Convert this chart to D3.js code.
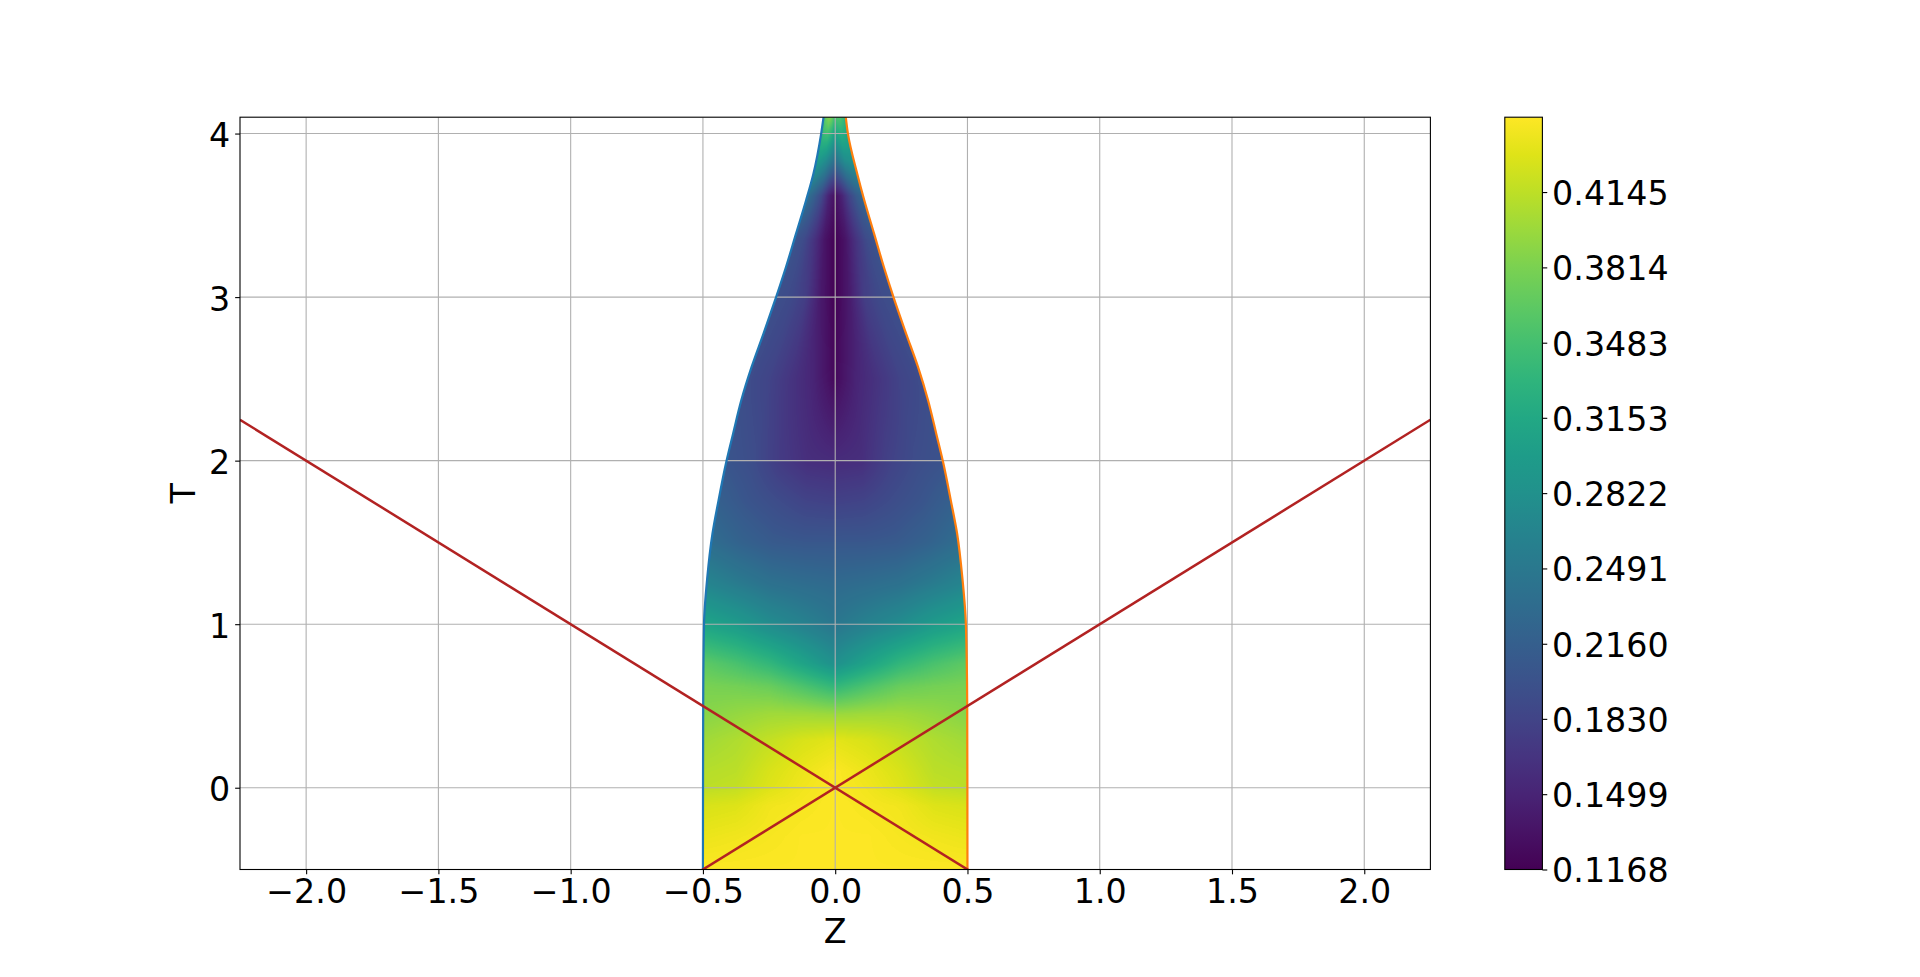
<!DOCTYPE html>
<html>
<head>
<meta charset="utf-8">
<script src="https://cdn.jsdelivr.net/npm/d3@7"></script>
<style>
  body { margin: 0; background: #fff; }
  svg { display: block; }
  text { font-family: "DejaVu Sans", sans-serif; }
</style>
</head>
<body>
<script>
// axis ticks
const zTicks = [-2.0, -1.5, -1.0, -0.5, 0.0, 0.5, 1.0, 1.5, 2.0];
const tTicks = [0, 1, 2, 3, 4];
const cbTicks = [0.1168, 0.1499, 0.1830, 0.2160, 0.2491, 0.2822, 0.3153, 0.3483, 0.3814, 0.4145];
const cbMin = 0.1168, cbMax = 0.4474;

// boundary of the domain (left = blue, right = orange)
const boundaryT = [-0.5, 0.5, 1.0, 1.278, 1.553, 1.757, 1.99, 2.165, 2.369, 2.573, 2.777, 2.997, 3.184, 3.388, 3.592, 3.75, 4.0, 4.1];
const leftZ  = [-0.5, -0.499, -0.496, -0.484, -0.464, -0.441, -0.412, -0.386, -0.355, -0.316, -0.271, -0.224, -0.186, -0.148, -0.110, -0.083, -0.053, -0.044];
const rightZ = [0.5, 0.499, 0.494, 0.481, 0.461, 0.437, 0.408, 0.382, 0.351, 0.313, 0.268, 0.221, 0.184, 0.147, 0.110, 0.084, 0.048, 0.040];

// field values, rows = T, columns = position across the domain (-1 left edge .. 1 right edge)
const uCols = [-1, -0.75, -0.5, -0.25, 0, 0.25, 0.5, 0.75, 1];
const tRows = [-0.5, -0.3, -0.11, 0, 0.1, 0.29, 0.45, 0.62, 0.76, 0.97, 1.25, 1.5, 1.75, 2.0, 2.5, 3.0, 3.35, 3.62, 3.83, 4.1];
const fieldValues = [
  [0.447, 0.447, 0.447, 0.447, 0.447, 0.447, 0.447, 0.447, 0.447],
  [0.438, 0.441, 0.444, 0.447, 0.447, 0.447, 0.444, 0.441, 0.438],
  [0.428, 0.431, 0.441, 0.444, 0.447, 0.444, 0.441, 0.431, 0.428],
  [0.414, 0.418, 0.431, 0.441, 0.447, 0.441, 0.431, 0.418, 0.414],
  [0.411, 0.414, 0.428, 0.438, 0.447, 0.438, 0.428, 0.414, 0.411],
  [0.401, 0.408, 0.418, 0.428, 0.434, 0.428, 0.418, 0.408, 0.401],
  [0.388, 0.395, 0.401, 0.401, 0.398, 0.401, 0.401, 0.395, 0.388],
  [0.381, 0.378, 0.372, 0.355, 0.335, 0.355, 0.372, 0.378, 0.381],
  [0.365, 0.352, 0.335, 0.309, 0.282, 0.309, 0.335, 0.352, 0.365],
  [0.315, 0.302, 0.282, 0.266, 0.249, 0.266, 0.282, 0.302, 0.315],
  [0.266, 0.252, 0.239, 0.233, 0.229, 0.233, 0.239, 0.252, 0.266],
  [0.233, 0.219, 0.209, 0.206, 0.206, 0.206, 0.209, 0.219, 0.233],
  [0.216, 0.203, 0.193, 0.183, 0.180, 0.183, 0.193, 0.203, 0.216],
  [0.203, 0.193, 0.173, 0.160, 0.157, 0.160, 0.180, 0.193, 0.200],
  [0.193, 0.183, 0.166, 0.150, 0.123, 0.150, 0.166, 0.183, 0.193],
  [0.196, 0.190, 0.176, 0.140, 0.117, 0.140, 0.176, 0.190, 0.196],
  [0.203, 0.190, 0.163, 0.133, 0.117, 0.133, 0.163, 0.190, 0.203],
  [0.239, 0.216, 0.190, 0.150, 0.127, 0.150, 0.183, 0.209, 0.226],
  [0.299, 0.289, 0.276, 0.256, 0.233, 0.256, 0.276, 0.282, 0.282],
  [0.348, 0.375, 0.388, 0.375, 0.348, 0.355, 0.355, 0.342, 0.322]
];

// the two red lines (endpoints)
const redLines = [
  {z: [-2.25, 2.25], t: [2.25, -2.25]},
  {z: [-2.25, 2.25], t: [-2.25, 2.25]}
];

const W = 1920, H = 977;
const fontSize = 33.3;
const tickLen = 4.86;

const x = d3.scaleLinear().domain([-2.25, 2.25]).range([240, 1430.4]);
const y = d3.scaleLinear().domain([-0.5, 4.1]).range([869.5, 117.2]);
const cbY = d3.scaleLinear().domain([cbMin, cbMax]).range([869.5, 117.2]);
const cbX0 = 1504.8, cbW = 37.6;

const svg = d3.select("body").append("svg")
  .attr("width", W).attr("height", H);

svg.append("rect").attr("width", W).attr("height", H).attr("fill", "#fff");

const defs = svg.append("defs");
defs.append("clipPath").attr("id", "plotClip")
  .append("rect")
  .attr("x", x.range()[0]).attr("y", y.range()[1])
  .attr("width", x.range()[1] - x.range()[0])
  .attr("height", y.range()[0] - y.range()[1]);

const bnd = boundaryT.map((t, i) => ({t: t, l: leftZ[i], r: rightZ[i]}));
const area = d3.area()
  .y(d => y(d.t)).x0(d => x(d.l)).x1(d => x(d.r))
  .curve(d3.curveMonotoneY);
defs.append("clipPath").attr("id", "fieldClip")
  .append("path").attr("d", area(bnd));

// ---- field image ----
const lut = d3.range(256).map(i => d3.rgb(d3.interpolateViridis(i / 255)));
const norm = d3.scaleLinear().domain([cbMin, cbMax]).range([0, 255]).clamp(true);
const rowIdx = d3.scaleLinear().domain(tRows).range(d3.range(tRows.length)).clamp(true);
const colIdx = d3.scaleLinear().domain(uCols).range(d3.range(uCols.length)).clamp(true);
const leftAt = d3.scaleLinear().domain(boundaryT).range(leftZ).clamp(true);
const rightAt = d3.scaleLinear().domain(boundaryT).range(rightZ).clamp(true);

function fieldAt(t, u) {
  const ri = rowIdx(t), ci = colIdx(u);
  const r0 = Math.floor(ri), r1 = Math.min(r0 + 1, tRows.length - 1), fr = ri - r0;
  const c0 = Math.floor(ci), c1 = Math.min(c0 + 1, uCols.length - 1), fc = ci - c0;
  const a = fieldValues[r0][c0] * (1 - fc) + fieldValues[r0][c1] * fc;
  const b = fieldValues[r1][c0] * (1 - fc) + fieldValues[r1][c1] * fc;
  return a * (1 - fr) + b * fr;
}

const px0 = Math.floor(x(-0.53)), px1 = Math.ceil(x(0.53));
const py0 = Math.floor(y(4.1)), py1 = Math.ceil(y(-0.5));
const cw = px1 - px0, ch = py1 - py0;
const canvas = document.createElement("canvas");
canvas.width = cw; canvas.height = ch;
const ctx = canvas.getContext("2d");
const img = ctx.createImageData(cw, ch);
for (let j = 0; j < ch; j++) {
  const t = y.invert(py0 + j + 0.5);
  const L = leftAt(t), R = rightAt(t);
  const mid = (L + R) / 2, half = (R - L) / 2;
  for (let i = 0; i < cw; i++) {
    const z = x.invert(px0 + i + 0.5);
    let u = (z - mid) / half;
    u = Math.max(-1, Math.min(1, u));
    const c = lut[Math.round(norm(fieldAt(t, u)))];
    const k = (j * cw + i) * 4;
    img.data[k] = c.r; img.data[k + 1] = c.g; img.data[k + 2] = c.b; img.data[k + 3] = 255;
  }
}
ctx.putImageData(img, 0, 0);

svg.append("g").attr("clip-path", "url(#fieldClip)")
  .append("image")
  .attr("x", px0).attr("y", py0)
  .attr("width", cw).attr("height", ch)
  .attr("preserveAspectRatio", "none")
  .attr("href", canvas.toDataURL());

// ---- grid ----
const grid = svg.append("g").attr("clip-path", "url(#plotClip)");
grid.selectAll("line.gx").data(zTicks).enter().append("line")
  .attr("x1", d => x(d)).attr("x2", d => x(d))
  .attr("y1", y.range()[0]).attr("y2", y.range()[1])
  .attr("stroke", "#b0b0b0").attr("stroke-width", 1.1);
grid.selectAll("line.gy").data(tTicks).enter().append("line")
  .attr("y1", d => y(d)).attr("y2", d => y(d))
  .attr("x1", x.range()[0]).attr("x2", x.range()[1])
  .attr("stroke", "#b0b0b0").attr("stroke-width", 1.1);

// ---- lines ----
const lines = svg.append("g").attr("clip-path", "url(#plotClip)");
const curve = d3.line().x(d => x(d.z)).y(d => y(d.t)).curve(d3.curveMonotoneY);
lines.append("path")
  .attr("d", curve(bnd.map(d => ({z: d.l, t: d.t}))))
  .attr("fill", "none").attr("stroke", "#1f77b4").attr("stroke-width", 2.2);
lines.append("path")
  .attr("d", curve(bnd.map(d => ({z: d.r, t: d.t}))))
  .attr("fill", "none").attr("stroke", "#ff7f0e").attr("stroke-width", 2.2);

const straight = d3.line().x(d => x(d[0])).y(d => y(d[1]));
redLines.forEach(l => {
  lines.append("path")
    .attr("d", straight(l.z.map((z, i) => [z, l.t[i]])))
    .attr("fill", "none").attr("stroke", "#b22222").attr("stroke-width", 2.5);
});

// ---- axes ----
const xAxis = d3.axisBottom(x).tickValues(zTicks).tickFormat(d3.format(".1f"))
  .tickSize(tickLen).tickPadding(4.86);
const gx = svg.append("g").attr("transform", "translate(0," + y.range()[0] + ")").call(xAxis);
gx.select(".domain").remove();

const yAxis = d3.axisLeft(y).tickValues(tTicks).tickFormat(d3.format("d"))
  .tickSize(tickLen).tickPadding(4.86);
const gy = svg.append("g").attr("transform", "translate(" + x.range()[0] + ",0)").call(yAxis);
gy.select(".domain").remove();
gy.selectAll("text").attr("dy", "0.39em");

[gx, gy].forEach(g => {
  g.selectAll("line").attr("stroke", "#000").attr("stroke-width", 1.1);
  g.selectAll("text").attr("font-size", fontSize).attr("fill", "#000")
    .style("font-family", "'DejaVu Sans', sans-serif");
});

svg.append("rect")
  .attr("x", x.range()[0]).attr("y", y.range()[1])
  .attr("width", x.range()[1] - x.range()[0])
  .attr("height", y.range()[0] - y.range()[1])
  .attr("fill", "none").attr("stroke", "#000").attr("stroke-width", 1.1);

svg.append("text")
  .attr("x", (x.range()[0] + x.range()[1]) / 2).attr("y", 943)
  .attr("text-anchor", "middle").attr("font-size", fontSize)
  .text("Z");
svg.append("text")
  .attr("transform", "translate(194.5," + ((y.range()[0] + y.range()[1]) / 2) + ") rotate(-90)")
  .attr("text-anchor", "middle").attr("font-size", fontSize)
  .text("T");

// ---- colorbar ----
const grad = defs.append("linearGradient").attr("id", "cbGrad")
  .attr("x1", 0).attr("y1", 1).attr("x2", 0).attr("y2", 0);
d3.range(0, 1.0001, 0.05).forEach(s => {
  grad.append("stop").attr("offset", s).attr("stop-color", d3.interpolateViridis(s));
});
svg.append("rect")
  .attr("x", cbX0).attr("y", cbY.range()[1])
  .attr("width", cbW).attr("height", cbY.range()[0] - cbY.range()[1])
  .attr("fill", "url(#cbGrad)")
  .attr("stroke", "#000").attr("stroke-width", 1.1);

const cbAxis = d3.axisRight(cbY).tickValues(cbTicks).tickFormat(d3.format(".4f"))
  .tickSize(tickLen).tickPadding(4.86);
const gc = svg.append("g").attr("transform", "translate(" + (cbX0 + cbW) + ",0)").call(cbAxis);
gc.select(".domain").remove();
gc.selectAll("line").attr("stroke", "#000").attr("stroke-width", 1.1);
gc.selectAll("text").attr("font-size", fontSize).attr("fill", "#000").attr("dy", "0.37em")
  .style("font-family", "'DejaVu Sans', sans-serif");
</script>
</body>
</html>
